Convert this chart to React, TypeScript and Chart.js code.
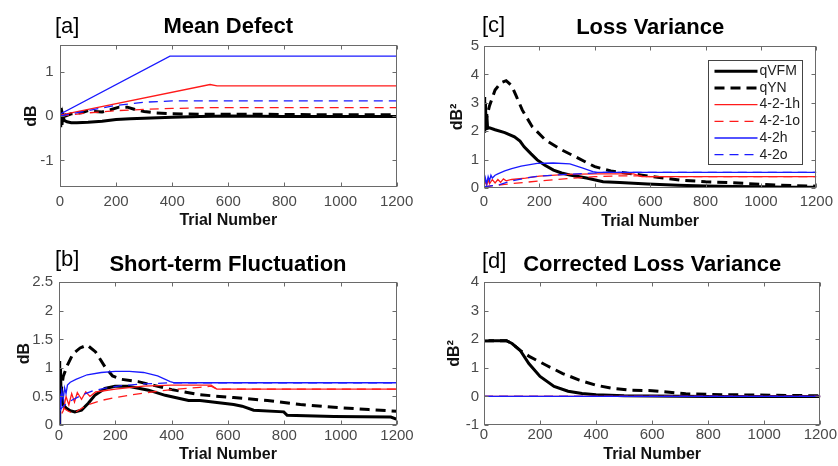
import React, { useEffect, useRef } from "react";
import { Chart, registerables } from "chart.js";

Chart.register(...registerables);

// ---------- shared ----------
const seriesNames = ["qVFM", "qYN", "4-2-1h", "4-2-1o", "4-2h", "4-2o"];
const xTicks = [0, 200, 400, 600, 800, 1000, 1200];

// ---------- [a] Mean Defect ----------
const aTicks = [-1, 0, 1];
const aQvfmX = [0, 2, 3, 5, 7, 10, 15, 25, 40, 60, 100, 150, 200, 250, 300, 400, 500, 600, 800, 1000, 1200];
const aQvfmY = [0, 0.15, -0.25, 0.1, -0.2, 0.02, -0.1, -0.13, -0.15, -0.15, -0.14, -0.12, -0.08, -0.06, -0.05, -0.03, -0.01, 0, -0.01, -0.01, -0.01];
const aQynX = [0, 3, 6, 10, 20, 40, 60, 80, 100, 120, 150, 180, 210, 240, 270, 300, 340, 400, 500, 700, 900, 1200];
const aQynY = [0, 0.18, -0.1, 0.1, 0.0, 0.05, 0.06, 0.08, 0.12, 0.1, 0.09, 0.14, 0.2, 0.2, 0.14, 0.1, 0.07, 0.05, 0.04, 0.04, 0.03, 0.03];
const a421hX = [0, 535, 560, 1200];
const a421hY = [0.02, 0.71, 0.68, 0.68];
const a421oX = [0, 100, 200, 300, 400, 540, 1200];
const a421oY = [0, 0.07, 0.12, 0.15, 0.17, 0.19, 0.19];
const a42hX = [0, 392, 1200];
const a42hY = [0.04, 1.35, 1.35];
const a42oX = [0, 100, 200, 300, 400, 1200];
const a42oY = [0, 0.12, 0.24, 0.31, 0.34, 0.34];

// ---------- [c] Loss Variance ----------
const cTicks = [0, 1, 2, 3, 4, 5];
const cQvfmX = [0, 2, 3, 4, 5, 6, 8, 10, 13, 20, 40, 75, 110, 130, 145, 170, 192, 220, 251, 280, 310, 370, 430, 490, 590, 700, 800, 900, 1000, 1100, 1200];
const cQvfmY = [2.0, 3.2, 2.1, 3.0, 2.2, 2.8, 2.3, 2.6, 2.1, 2.12, 2.05, 1.95, 1.8, 1.65, 1.45, 1.2, 0.99, 0.8, 0.63, 0.53, 0.46, 0.35, 0.22, 0.19, 0.14, 0.1, 0.07, 0.05, 0.04, 0.03, 0.03];
const cQynX = [3, 10, 20, 40, 60, 80, 100, 115, 138, 174, 222, 281, 340, 400, 458, 517, 564, 612, 706, 800, 884, 1000, 1061, 1182, 1200];
const cQynY = [2.2, 2.5, 2.9, 3.45, 3.7, 3.78, 3.6, 3.27, 2.75, 2.16, 1.69, 1.34, 1.05, 0.75, 0.6, 0.52, 0.46, 0.4, 0.28, 0.22, 0.19, 0.13, 0.1, 0.07, 0.06];
const c421hX = [0, 5, 10, 15, 20, 30, 40, 50, 60, 70, 80, 100, 150, 200, 300, 400, 540, 570, 1200];
const c421hY = [0.05, 0.25, 0.1, 0.3, 0.15, 0.3, 0.18, 0.3, 0.2, 0.32, 0.25, 0.3, 0.35, 0.42, 0.48, 0.5, 0.5, 0.4, 0.4];
const c421oX = [0, 30, 75, 150, 200, 300, 400, 500, 560, 600, 1200];
const c421oY = [0.02, 0.08, 0.13, 0.2, 0.25, 0.33, 0.4, 0.43, 0.43, 0.4, 0.4];
const c42hX = [0, 5, 10, 15, 20, 25, 30, 40, 50, 75, 100, 134, 192, 250, 310, 357, 393, 410, 1200];
const c42hY = [0.0, 0.35, 0.15, 0.4, 0.25, 0.45, 0.35, 0.45, 0.5, 0.6, 0.68, 0.77, 0.87, 0.88, 0.85, 0.7, 0.58, 0.55, 0.55];
const c42oX = [0, 50, 100, 150, 200, 300, 400, 420, 1200];
const c42oY = [0.05, 0.1, 0.25, 0.35, 0.42, 0.48, 0.53, 0.55, 0.55];

// ---------- [b] Short-term Fluctuation ----------
const bTicks = [0, 0.5, 1, 1.5, 2, 2.5];
const bQvfmX = [0, 2, 3, 4, 5, 6, 8, 10, 15, 25, 40, 56, 80, 104, 127, 163, 199, 246, 318, 377, 460, 501, 620, 650, 691, 798, 810, 976, 1178, 1200];
const bQvfmY = [0, 1.12, 0.3, 1.0, 0.5, 0.9, 0.45, 0.6, 0.35, 0.3, 0.25, 0.23, 0.26, 0.38, 0.52, 0.64, 0.68, 0.68, 0.61, 0.52, 0.43, 0.43, 0.36, 0.33, 0.26, 0.23, 0.17, 0.15, 0.14, 0.1];
const bQynX = [5, 15, 30, 50, 75, 100, 130, 163, 190, 222, 281, 340, 400, 500, 620, 740, 857, 976, 1100, 1200];
const bQynY = [0.5, 0.85, 1.05, 1.25, 1.35, 1.4, 1.28, 1.02, 0.86, 0.8, 0.76, 0.69, 0.62, 0.53, 0.48, 0.43, 0.36, 0.31, 0.27, 0.24];
const b421hX = [10, 15, 25, 35, 45, 55, 65, 80, 95, 110, 130, 160, 200, 300, 400, 540, 560, 1200];
const b421hY = [0.2, 0.25, 0.5, 0.35, 0.55, 0.4, 0.57, 0.45, 0.58, 0.5, 0.58, 0.6, 0.63, 0.68, 0.7, 0.7, 0.63, 0.63];
const b421oX = [15, 30, 50, 100, 150, 200, 300, 400, 500, 540, 560, 1200];
const b421oY = [0.3, 0.25, 0.2, 0.35, 0.43, 0.48, 0.56, 0.62, 0.66, 0.68, 0.63, 0.63];
const b42hX = [0, 3, 6, 10, 15, 20, 25, 30, 40, 60, 100, 150, 200, 250, 300, 350, 395, 410, 1200];
const b42hY = [0, 0.55, 0.3, 0.6, 0.45, 0.65, 0.55, 0.7, 0.75, 0.8, 0.88, 0.92, 0.94, 0.94, 0.92, 0.86, 0.76, 0.74, 0.74];
const b42oX = [3, 10, 20, 40, 80, 120, 160, 220, 300, 400, 1200];
const b42oY = [0.25, 0.3, 0.35, 0.42, 0.52, 0.6, 0.64, 0.69, 0.72, 0.74, 0.74];

// ---------- [d] Corrected Loss Variance ----------
const dTicks = [-1, 0, 1, 2, 3, 4];
const dQvfmX = [0, 50, 80, 100, 130, 160, 200, 250, 300, 350, 400, 500, 600, 800, 1200];
const dQvfmY = [1.95, 1.95, 1.95, 1.85, 1.6, 1.15, 0.7, 0.35, 0.18, 0.1, 0.06, 0.02, 0.01, 0.0, 0.0];
const dQynX = [0, 50, 80, 100, 130, 163, 222, 281, 340, 400, 459, 518, 600, 720, 850, 957, 1200];
const dQynY = [1.95, 1.95, 1.95, 1.85, 1.6, 1.39, 1.09, 0.8, 0.57, 0.39, 0.28, 0.22, 0.2, 0.09, 0.06, 0.05, 0.02];
const dFlatX = [0, 1200];
const dFlatY = [0, 0];

// ---------- styles ----------
const FONT = "'Liberation Sans', Arial, Helvetica, sans-serif";
const lineStyles = [
  { color: "#000000", width: 3, dash: [] as number[] },
  { color: "#000000", width: 3, dash: [10, 6] },
  { color: "#ff1a1a", width: 1.3, dash: [] as number[] },
  { color: "#ff1a1a", width: 1.3, dash: [9, 6] },
  { color: "#1a1aff", width: 1.3, dash: [] as number[] },
  { color: "#1a1aff", width: 1.3, dash: [9, 6] },
];

const panels = [
  {
    key: "a", tag: "[a]", title: "Mean Defect", yTitle: "dB", yMin: -1.6, yMax: 1.6, yTicks: aTicks,
    series: [[aQvfmX, aQvfmY], [aQynX, aQynY], [a421hX, a421hY], [a421oX, a421oY], [a42hX, a42hY], [a42oX, a42oY]],
    left: 0, top: 0, cl: 60, cr: 397, t0: 13.8, tb: 4.8, cb: 187, xtp: 5.7, xtt: 2.4, ytt: 22, ytp: 6.5, tagX: 55, tagY: 26.5, legend: false,
  },
  {
    key: "c", tag: "[c]", title: "Loss Variance", yTitle: "dB\u00B2", yMin: 0, yMax: 5, yTicks: cTicks,
    series: [[cQvfmX, cQvfmY], [cQynX, cQynY], [c421hX, c421hY], [c421oX, c421oY], [c42hX, c42hY], [c42oX, c42oY]],
    left: 419, top: 0, cl: 65, cr: 403, t0: 14.3, tb: 5.3, cb: 188, xtp: 5.0, xtt: 1.7, ytt: 28.9, ytp: 5, tagX: 63, tagY: 25.5, legend: true,
  },
  {
    key: "b", tag: "[b]", title: "Short-term Fluctuation", yTitle: "dB", yMin: 0, yMax: 2.5, yTicks: bTicks,
    series: [[bQvfmX, bQvfmY], [bQynX, bQynY], [b421hX, b421hY], [b421oX, b421oY], [b42hX, b42hY], [b42oX, b42oY]],
    left: 0, top: 233, cl: 59, cr: 397, t0: 18.5, tb: 4.4, cb: 192, xtp: 1.6, xtt: 1.7, ytt: 15.4, ytp: 6, tagX: 55, tagY: 26.7, legend: false,
  },
  {
    key: "d", tag: "[d]", title: "Corrected Loss Variance", yTitle: "dB\u00B2", yMin: -1, yMax: 4, yTicks: dTicks,
    series: [[dQvfmX, dQvfmY], [dQynX, dQynY], [dFlatX, dFlatY], [dFlatX, dFlatY], [dFlatX, dFlatY], [dFlatX, dFlatY]],
    left: 419, top: 233, cl: 65, cr: 403, t0: 18.3, tb: 4.3, cb: 192, xtp: 1.0, xtt: 1.7, ytt: 26.4, ytp: 5, tagX: 63, tagY: 29, legend: false,
  },
];

const CW = 419;
const CH = 233;

const boxPlugin = {
  id: "matlabBox",
  afterDatasetsDraw(chart: any) {
    const { ctx, chartArea: a, scales } = chart;
    ctx.save();
    ctx.strokeStyle = "#6a6a6a";
    ctx.lineWidth = 1;
    ctx.setLineDash([]);
    const L = Math.round(a.left) + 0.5, R = Math.round(a.right) - 0.5;
    const T = Math.round(a.top) + 0.5, B = Math.round(a.bottom) - 0.5;
    ctx.strokeRect(L, T, R - L, B - T);
    const tl = 4;
    ctx.beginPath();
    scales.x.ticks.forEach((t: any) => {
      const px = Math.round(scales.x.getPixelForValue(t.value)) + 0.5;
      ctx.moveTo(px, B); ctx.lineTo(px, B - tl);
      ctx.moveTo(px, T); ctx.lineTo(px, T + tl);
    });
    scales.y.ticks.forEach((t: any) => {
      const py = Math.round(scales.y.getPixelForValue(t.value)) + 0.5;
      ctx.moveTo(L, py); ctx.lineTo(L + tl, py);
      ctx.moveTo(R, py); ctx.lineTo(R - tl, py);
    });
    ctx.stroke();
    ctx.restore();
  },
};

function makeTagPlugin(text: string, x: number, y: number) {
  return {
    id: "panelTag",
    afterDraw(chart: any) {
      const ctx = chart.ctx;
      ctx.save();
      ctx.font = `22px ${FONT}`;
      ctx.fillStyle = "#000";
      ctx.textAlign = "left";
      ctx.textBaseline = "middle";
      ctx.fillText(text, x, y);
      ctx.restore();
    },
  };
}

const legendPlugin = {
  id: "insideLegend",
  afterDraw(chart: any) {
    const { ctx, chartArea: a } = chart;
    const w = 94, h = 104;
    const bx = Math.round(a.right - 14 - w) + 0.5;
    const by = Math.round(a.top + 14) + 0.5;
    ctx.save();
    ctx.fillStyle = "#ffffff";
    ctx.fillRect(bx, by, w, h);
    ctx.strokeStyle = "#444";
    ctx.lineWidth = 1;
    ctx.strokeRect(bx, by, w, h);
    ctx.font = `14px ${FONT}`;
    ctx.textBaseline = "middle";
    ctx.textAlign = "left";
    chart.data.datasets.forEach((ds: any, i: number) => {
      const y = by + 10.7 + i * 16.7;
      ctx.strokeStyle = ds.borderColor;
      ctx.lineWidth = ds.borderWidth;
      ctx.setLineDash(ds.borderDash || []);
      ctx.beginPath();
      ctx.moveTo(bx + 6, y);
      ctx.lineTo(bx + 49, y);
      ctx.stroke();
      ctx.setLineDash([]);
      ctx.fillStyle = "#222";
      ctx.fillText(ds.label, bx + 51, y);
    });
    ctx.restore();
  },
};

function Panel({ p }: { p: any }) {
  const ref = useRef<HTMLCanvasElement>(null);
  useEffect(() => {
    if (!ref.current) return;
    const datasets = p.series.map((s: any, i: number) => ({
      label: seriesNames[i],
      data: s[0].map((x: number, j: number) => ({ x, y: s[1][j] })),
      borderColor: lineStyles[i].color,
      borderWidth: lineStyles[i].width,
      borderDash: lineStyles[i].dash,
      pointRadius: 0,
      fill: false,
      tension: 0,
      order: 5 - i,
    }));
    const plugins: any[] = [boxPlugin, makeTagPlugin(p.tag, p.tagX, p.tagY)];
    if (p.legend) plugins.push(legendPlugin);
    const chart = new Chart(ref.current, {
      type: "line",
      data: { datasets },
      options: {
        responsive: false,
        animation: false,
        events: [],
        layout: { padding: { left: 0, right: CW - p.cr, top: p.t0, bottom: 0 } },
        plugins: {
          legend: { display: false },
          tooltip: { enabled: false },
          title: {
            display: true,
            text: p.title,
            fullSize: false,
            color: "#000",
            font: { family: FONT, size: 22, weight: "bold" },
            padding: { top: 0, bottom: p.tb },
          },
        },
        scales: {
          x: {
            type: "linear",
            min: 0,
            max: 1200,
            afterBuildTicks: (s: any) => { s.ticks = xTicks.map((v) => ({ value: v })); },
            afterFit: (s: any) => { s.height = CH - p.cb; },
            grid: { display: false, drawTicks: false },
            border: { display: false },
            ticks: {
              padding: p.xtp,
              autoSkip: false,
              minRotation: 0,
              maxRotation: 0,
              color: "#4a4a4a",
              font: { family: FONT, size: 15 },
              callback: (v: any) => String(v),
            },
            title: {
              display: true,
              text: "Trial Number",
              color: "#111",
              font: { family: FONT, size: 16, weight: "bold" },
              padding: { top: 0, bottom: p.xtt },
            },
          },
          y: {
            type: "linear",
            min: p.yMin,
            max: p.yMax,
            afterBuildTicks: (s: any) => { s.ticks = p.yTicks.map((v: number) => ({ value: v })); },
            afterFit: (s: any) => { s.width = p.cl; },
            grid: { display: false, drawTicks: false },
            border: { display: false },
            ticks: {
              padding: p.ytp,
              color: "#4a4a4a",
              font: { family: FONT, size: 15 },
              callback: (v: any) => String(v),
            },
            title: {
              display: true,
              text: p.yTitle,
              color: "#111",
              font: { family: FONT, size: 16, weight: "bold" },
              padding: { top: p.ytt, bottom: 0 },
            },
          },
        },
      } as any,
      plugins,
    });
    return () => chart.destroy();
  }, [p]);
  return (
    <canvas
      ref={ref}
      width={CW}
      height={CH}
      style={{ position: "absolute", left: p.left, top: p.top, width: CW, height: CH }}
    />
  );
}

export default function App() {
  return (
    <div style={{ position: "absolute", left: 0, top: 0, width: 838, height: 466, background: "#fff" }}>
      {panels.map((p) => (
        <Panel key={p.key} p={p} />
      ))}
    </div>
  );
}
